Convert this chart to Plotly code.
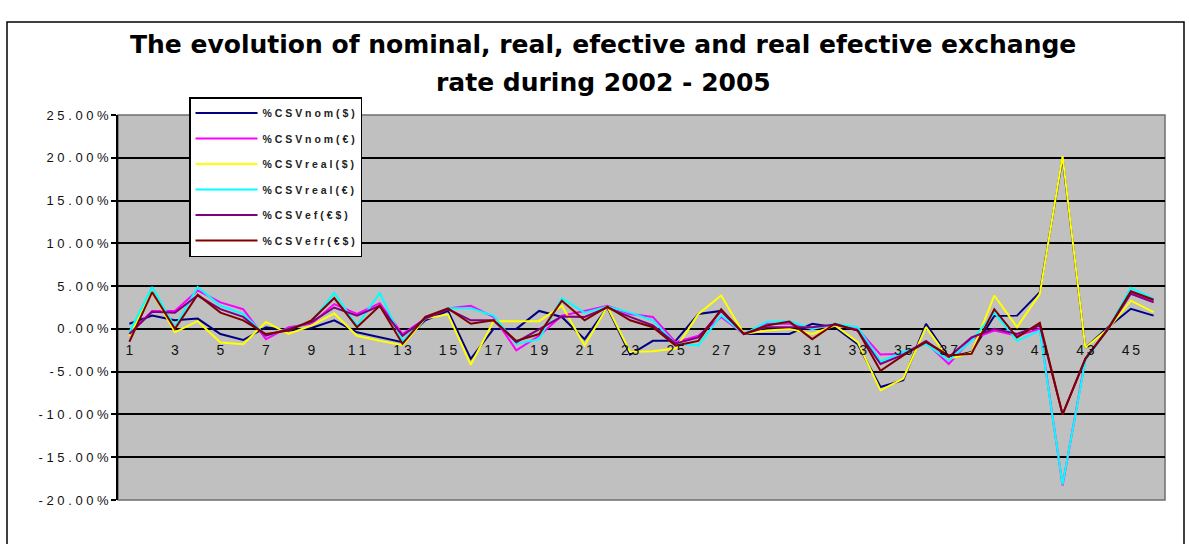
import plotly.graph_objects as go

# Period index (1..46)
periods = list(range(1, 47))

# Percentage change of each exchange-rate index, in %
nom_usd = [0.6, 1.55, 1.0, 1.2, -0.6, -1.3, 0.2, -0.2, 0.1, 1.0,
           -0.4, -1.0, -1.55, 1.0, 2.1, -3.5, 0.0, 0.0, 2.1, 1.4,
           -1.2, 2.5, -3.0, -1.4, -1.4, 1.75, 2.1, -0.6, -0.6, -0.6,
           0.6, 0.2, -1.8, -6.8, -6.0, 0.6, -3.3, -2.7, 1.5, 1.55,
           4.3, 20.0, -2.2, 0.2, 2.35, 1.55]
nom_eur = [-0.6, 2.1, 2.1, 4.5, 3.1, 2.3, -1.2, 0.2, 0.6, 2.9,
           1.75, 3.0, -0.6, 1.2, 2.4, 2.7, 1.4, -2.5, -0.8, 1.55,
           2.1, 2.7, 1.75, 1.4, -1.55, -0.8, 1.4, -0.6, 0.6, 0.6,
           0.0, 0.5, 0.0, -3.0, -2.9, -1.6, -4.1, -1.2, -0.2, -0.8,
           0.0, -18.3, -3.5, 0.0, 4.3, 3.3]
real_usd = [-0.8, 4.3, -0.4, 0.9, -1.6, -1.8, 0.8, -0.6, 0.4, 1.8,
            -0.8, -1.4, -1.9, 1.2, 1.7, -4.2, 0.9, 0.9, 0.9, 2.7,
            -1.95, 2.6, -2.7, -2.6, -2.3, 1.75, 3.9, -0.6, -0.2, 0.0,
            -0.6, 0.4, -1.55, -7.2, -5.8, 0.2, -3.5, -2.8, 3.9, 0.2,
            4.1, 20.2, -2.2, 0.0, 3.3, 1.95]
real_eur = [-0.4, 4.9, 0.2, 4.9, 2.7, 1.75, -0.8, 0.0, 0.8, 4.2,
            0.4, 4.2, -1.4, 1.2, 2.4, 2.4, 1.55, -1.75, -1.2, 3.6,
            1.9, 2.6, 1.9, 1.0, -1.75, -1.95, 1.6, -0.6, 0.8, 0.9,
            0.0, 0.6, 0.2, -3.8, -2.7, -1.75, -3.7, -1.4, 1.9, -1.4,
            -0.2, -18.2, -3.7, 0.0, 4.8, 3.5]
eff = [-0.6, 2.0, 1.9, 3.9, 2.3, 1.4, -0.8, 0.0, 0.8, 2.5,
       1.55, 2.7, -0.8, 1.2, 2.3, 1.0, 1.0, -1.55, 0.0, 1.45,
       1.4, 2.5, 1.4, 0.4, -1.7, -1.0, 2.1, -0.6, 0.2, 0.2,
       0.2, 0.5, -0.2, -4.1, -3.0, -1.4, -3.3, -1.0, 0.0, -0.6,
       0.4, -10.0, -3.5, 0.0, 4.1, 3.1]
eff_real = [-1.5, 4.3, 0.0, 4.0, 1.9, 1.0, -0.6, -0.2, 1.0, 3.6,
            0.2, 2.7, -1.75, 1.4, 2.4, 0.6, 1.0, -1.4, -0.6, 3.3,
            1.0, 2.6, 1.0, 0.2, -1.95, -1.4, 2.3, -0.6, 0.4, 0.85,
            -1.2, 0.6, -0.2, -4.9, -3.1, -1.55, -3.1, -2.9, 2.3, -1.0,
            0.7, -10.0, -3.5, 0.0, 4.4, 3.4]

series_names = ["%CSVnom($)", "%CSVnom(€)", "%CSVreal($)",
                "%CSVreal(€)", "%CSVef(€$)", "%CSVefr(€$)"]
series_values = [nom_usd, nom_eur, real_usd, real_eur, eff, eff_real]
series_colors = ["#000080", "#FF00FF", "#FFFF00", "#00FFFF", "#800080", "#800000"]

y_ticks = [-0.20, -0.15, -0.10, -0.05, 0.0, 0.05, 0.10, 0.15, 0.20, 0.25]
y_tick_labels = ["-20.00%", "-15.00%", "-10.00%", "-5.00%", "0.00%",
                 "5.00%", "10.00%", "15.00%", "20.00%", "25.00%"]
x_label_ticks = list(range(1, 47, 2))

title_lines = ["The evolution of nominal, real, efective and real efective exchange",
               "rate during 2002 - 2005"]

THIN = "\u2009"


def spaced(s, sep=THIN):
    return sep.join(list(s))


fig = go.Figure()
for name, vals, col in zip(series_names, series_values, series_colors):
    fig.add_trace(go.Scatter(
        x=periods, y=[v / 100 for v in vals], mode="lines", name=spaced(name, " "),
        legendgroup=name, line=dict(color=col, width=2),
    ))

fig.update_layout(
    width=1189, height=544,
    margin=dict(l=118, r=24, t=115, b=44),
    paper_bgcolor="white", plot_bgcolor="#C0C0C0",
    font=dict(family="Liberation Sans, Arial, sans-serif", color="black"),
    showlegend=True,
    legend=dict(
        x=(189 - 118) / 1047, y=(500 - 97) / 385, xanchor="left", yanchor="top",
        bgcolor="white", bordercolor="black", borderwidth=1.5,
        font=dict(size=10.5, color="#222222", weight="bold"),
        itemwidth=62, traceorder="grouped", tracegroupgap=6.5,
    ),
    xaxis=dict(
        range=[0.5, 46.5], anchor="free", position=20 / 45,
        tickmode="array", tickvals=x_label_ticks,
        ticktext=[spaced(str(v)) for v in x_label_ticks],
        ticks="outside", ticklen=8, tickcolor="rgba(0,0,0,0)",
        showgrid=False, zeroline=False, showline=False,
        tickfont=dict(size=14, color="#111111"),
    ),
    xaxis2=dict(
        overlaying="x", range=[0.5, 46.5], anchor="free", position=20 / 45,
        tickmode="array", tickvals=[k + 0.5 for k in range(47)],
        showticklabels=False, ticks="outside", ticklen=5,
        tickcolor="black", tickwidth=1.5,
        showgrid=False, zeroline=False, showline=False,
    ),
    yaxis=dict(
        range=[-0.20, 0.25], tickmode="array", tickvals=y_ticks,
        ticktext=[spaced(t, " ") for t in y_tick_labels],
        showgrid=True, gridcolor="black", gridwidth=1.5,
        zeroline=True, zerolinecolor="black", zerolinewidth=1.5,
        showline=True, linecolor="black", linewidth=1.5,
        ticks="outside", ticklen=5, tickcolor="black", tickwidth=1.5,
        tickfont=dict(size=13, color="#111111"),
    ),
)

# Plot-area frame and outer chart frame
fig.add_shape(type="rect", xref="paper", yref="paper", x0=0, x1=1, y0=0, y1=1,
              line=dict(color="#6E6E6E", width=1.5), layer="below")
fig.add_shape(type="rect", xref="paper", yref="paper",
              x0=(7 - 118) / 1047, x1=(1184 - 118) / 1047,
              y0=(500 - 570) / 385, y1=(500 - 22) / 385,
              line=dict(color="black", width=1.5))

# Two-line chart title
for line_text, py in zip(title_lines, [45, 82]):
    fig.add_annotation(
        text="<b>" + line_text + "</b>", xref="paper", yref="paper",
        x=(603 - 118) / 1047, y=(500 - py) / 385, xanchor="center", yanchor="middle",
        showarrow=False,
        font=dict(size=25, color="black", family="DejaVu Sans, Liberation Sans, sans-serif"),
    )

fig.write_html("out.html")
